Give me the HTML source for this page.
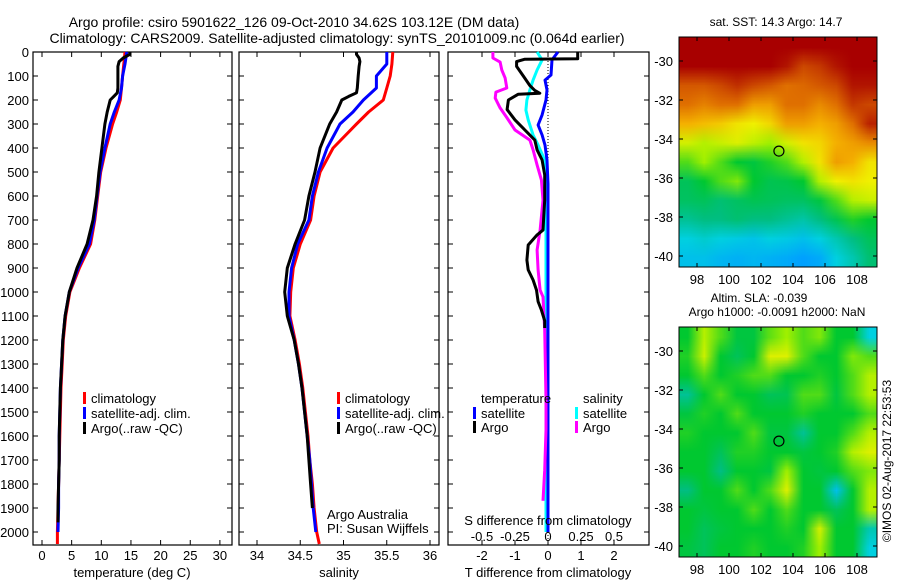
<!DOCTYPE html>
<html><head><meta charset="utf-8">
<style>
body{margin:0;background:#fff;}
#wrap{position:relative;width:900px;height:580px;}
#wrap canvas{position:absolute;image-rendering:auto;z-index:0;}
svg{position:absolute;left:0;top:0;display:block;font-family:"Liberation Sans",sans-serif;z-index:1;}
text{fill:#000;}
</style></head>
<body>
<div id="wrap">
<canvas id="m1" width="12" height="12" style="left:679px;top:37px;width:198px;height:230px;"></canvas>
<canvas id="m2" width="12" height="12" style="left:679px;top:327px;width:198px;height:230px;"></canvas>
<svg id="fig" width="900" height="580" viewBox="0 0 900 580">
<text x="294" y="27" font-size="14" text-anchor="middle">Argo profile: csiro 5901622_126 09-Oct-2010 34.62S 103.12E (DM data)</text>
<text x="337" y="43" font-size="14" text-anchor="middle">Climatology: CARS2009. Satellite-adjusted climatology: synTS_20101009.nc (0.064d earlier)</text>
<g id="g"></g>
</svg>
</div>
<script>
// ---------- profile data ----------
const climDepth=[0,50,100,150,200,250,300,400,500,600,700,800,900,1000,1100,1200,1300,1400,1500,1600,1700,1800,1900,2000,2050];
const tempClim=[14.0,13.8,13.6,13.4,13.2,12.6,11.9,10.8,9.9,9.4,8.9,8.2,6.3,4.7,4.0,3.6,3.4,3.2,3.1,3.0,2.9,2.8,2.7,2.6,2.6];
const tempSat=[14.3,14.0,13.6,13.4,13.0,12.2,11.5,10.6,9.8,9.3,8.8,8.0,6.1,4.6,3.9,3.5,3.3,3.1,3.0,2.9,2.9,2.8,2.8,2.7,2.7];
const salClim=[35.57,35.56,35.54,35.5,35.46,35.29,35.15,34.88,34.73,34.66,34.62,34.5,34.42,34.39,34.38,34.44,34.49,34.53,34.56,34.59,34.61,34.64,34.66,34.69,34.72];
const salSat=[35.5,35.5,35.38,35.38,35.23,35.11,34.96,34.81,34.71,34.64,34.6,34.47,34.4,34.37,34.37,34.43,34.48,34.52,34.55,34.58,34.61,34.63,34.65,34.68,34.7];
const argoDepth=[0,10,25,40,60,100,150,170,185,200,250,300,400,500,600,700,800,900,1000,1100,1200,1300,1400,1500,1600,1700,1800,1900,1960];
const tempArgo=[14.8,14.8,13.7,13.0,12.8,12.8,12.8,12.7,12.1,11.5,11.0,10.6,10.1,9.6,9.2,8.6,7.6,5.9,4.6,3.9,3.5,3.3,3.1,3.0,2.9,2.9,2.8,2.7,2.7];
const salArgo=[35.15,35.15,35.18,35.19,35.18,35.17,35.16,35.15,35.06,34.98,34.92,34.84,34.73,34.67,34.6,34.55,34.44,34.35,34.32,34.35,34.43,34.48,34.52,34.55,34.58,34.6,34.62,34.64,34.65];
// difference series (T units; S plotted as 4*dS)
const dTArgoDepth=[0,10,28,30,40,60,100,140,160,172,176,200,240,283,325,367,408,450,512,617,742,762,804,867,908,950,992,1040,1075,1120,1150];
const dTArgo=[0.9,0.9,0.9,-0.7,-0.95,-0.95,-0.75,-0.55,-0.4,-0.25,-0.9,-1.2,-1.24,-1.0,-0.7,-0.4,-0.33,-0.18,-0.1,-0.1,-0.15,-0.33,-0.6,-0.64,-0.6,-0.45,-0.35,-0.3,-0.2,-0.1,-0.1];
const dSArgoDepth=[0,25,42,75,108,150,167,192,233,275,325,367,408,471,533,617,742,825,908,992,1020,1158,1450,1575,1742,1870];
const dSArgo=[-1.67,-1.67,-1.45,-1.4,-1.3,-1.25,-1.58,-1.6,-1.45,-1.24,-1.0,-0.55,-0.45,-0.33,-0.2,-0.15,-0.24,-0.33,-0.3,-0.24,-0.15,-0.1,-0.06,-0.06,-0.1,-0.15];
const dSSatDepth=[0,33,75,117,158,200,242,283,346,388,450,533,1000,1500,2000];
const dSSat=[-0.33,-0.18,-0.33,-0.45,-0.55,-0.64,-0.67,-0.6,-0.45,-0.3,-0.1,-0.06,-0.06,-0.06,-0.06];
const dTSatDepth=[0,33,96,117,158,200,262,304,346,388,450,550,1000,1500,2000];
const dTSat=[0.3,0.12,0.09,-0.09,-0.03,-0.06,-0.18,-0.3,-0.18,-0.09,-0.03,0,0,0,0];
// tick labels
const depthTicks=[0,100,200,300,400,500,600,700,800,900,1000,1100,1200,1300,1400,1500,1600,1700,1800,1900,2000];
const tempTicks=[0,5,10,15,20,25,30];
const salTicks=[34,34.5,35,35.5,36];
const dTTicks=[-2,-1,0,1,2];
const dSTicks=[-0.5,-0.25,0,0.25,0.5];
// maps
const lonTicks=[98,100,102,104,106,108];
const latTicks=[-30,-32,-34,-36,-38,-40];
const sstGrid=[
[1,1,1,1,1,1,1,1,1,1,1,1],
[1,1,1,1,1,1,.97,.9,.92,.97,1,1],
[.88,.88,.9,.93,.9,.88,.85,.86,.88,.9,.97,.97],
[.85,.83,.85,.85,.8,.8,.85,.85,.82,.85,.92,.9],
[.78,.76,.74,.7,.68,.72,.8,.8,.78,.8,.85,.95],
[.65,.62,.64,.66,.63,.6,.65,.7,.72,.78,.8,.82],
[.55,.6,.55,.5,.48,.52,.55,.62,.7,.8,.78,.7],
[.45,.5,.55,.58,.5,.46,.47,.5,.62,.68,.7,.68],
[.44,.45,.42,.44,.46,.45,.44,.44,.48,.55,.62,.64],
[.38,.4,.4,.42,.4,.4,.38,.36,.4,.46,.52,.5],
[.3,.32,.3,.28,.26,.3,.28,.25,.3,.35,.4,.45],
[.25,.25,.22,.2,.22,.2,.18,.15,.18,.3,.35,.42]];
const slaGrid=[
[.5,.62,.55,.48,.48,.56,.6,.55,.58,.5,.5,.3],
[.52,.64,.5,.45,.5,.66,.66,.55,.5,.5,.58,.55],
[.5,.55,.5,.52,.55,.55,.5,.5,.52,.5,.55,.62],
[.38,.5,.55,.5,.5,.45,.46,.55,.55,.48,.55,.62],
[.48,.52,.5,.55,.5,.5,.5,.52,.5,.5,.5,.55],
[.52,.5,.5,.5,.55,.48,.48,.38,.5,.5,.55,.62],
[.5,.5,.45,.52,.52,.5,.5,.48,.5,.52,.62,.66],
[.5,.5,.4,.5,.5,.48,.6,.5,.48,.5,.55,.58],
[.4,.5,.5,.55,.5,.55,.66,.5,.5,.25,.5,.62],
[.5,.48,.5,.5,.55,.5,.55,.5,.5,.45,.5,.62],
[.5,.45,.48,.5,.5,.5,.52,.5,.65,.5,.5,.35],
[.48,.45,.5,.5,.52,.5,.5,.52,.6,.5,.5,.3]];
const argoLon=103.12, argoLat=-34.62;

const NS='http://www.w3.org/2000/svg';
const G=document.getElementById('g');
function mk(tag,attrs,parentEl,txt){const e=document.createElementNS(NS,tag);for(const k in attrs)e.setAttribute(k,attrs[k]);if(txt!==undefined)e.textContent=txt;(parentEl||G).appendChild(e);return e;}

const yD=d=>52+d*0.24;
const PT=52,PB=545;
const xT=t=>42+t*5.93;
const xS=s=>257+(s-34)*86.5;
const xDiff=v=>548+v*33;

function frame(x0,x1,name){
  const r=mk('rect',{x:x0,y:PT,width:x1-x0,height:PB-PT,fill:'none',stroke:'#000','stroke-width':1.2});
  
  
  depthTicks.forEach(d=>{
    const y=yD(d);
    mk('line',{x1:x0,x2:x0+5,y1:y,y2:y,stroke:'#000'});
    mk('line',{x1:x1-5,x2:x1,y1:y,y2:y,stroke:'#000'});
  });
}
function xticks(vals,fx,labels,name,ly){
  vals.forEach((v,i)=>{
    const x=fx(v);
    mk('line',{x1:x,x2:x,y1:PB,y2:PB-5,stroke:'#000'});
    mk('line',{x1:x,x2:x,y1:PT,y2:PT+5,stroke:'#000'});
    const t=mk('text',{x:x,y:ly,'font-size':13,'text-anchor':'middle'},G,labels[i]);
    
    
  });
}
function line(ds,vs,fx,color,name,w){
  const pts=ds.map((d,i)=>fx(vs[i]).toFixed(1)+','+yD(d).toFixed(1)).join(' ');
  const p=mk('polyline',{points:pts,fill:'none',stroke:color,'stroke-width':w||3,'stroke-linejoin':'round'});
  
  
}
function legend(x,y,color,label,name){
  mk('rect',{x:x,y:y-6,width:3,height:12,fill:color});
  const t=mk('text',{x:x+8,y:y+5,'font-size':13},G,label);
  
  
}

depthTicks.forEach(d=>{
  const t=mk('text',{x:29,y:yD(d)+5,'font-size':13,'text-anchor':'end'},G,String(d));
  
  
});

// Panel 1 temperature
frame(33,232,'temperature-panel');
xticks(tempTicks,xT,tempTicks.map(String),'temperature-tick-label',560);
line(climDepth,tempClim,xT,'#f00','temperature-climatology-line');
line(climDepth.slice(0,24),tempSat.slice(0,24),xT,'#00f','temperature-satellite-line');
line(argoDepth,tempArgo,xT,'#000','temperature-argo-line');
mk('text',{x:132,y:577,'font-size':13,'text-anchor':'middle',},G,'temperature (deg C)');
legend(83,398,'#f00','climatology','legend-climatology');
legend(83,413,'#00f','satellite-adj. clim.','legend-satellite-adj');
legend(83,428,'#000','Argo(..raw -QC)','legend-argo');

// Panel 2 salinity
frame(239,439,'salinity-panel');
xticks(salTicks,xS,['34','34.5','35','35.5','36'],'salinity-tick-label',560);
line(climDepth,salClim,xS,'#f00','salinity-climatology-line');
line(climDepth.slice(0,24),salSat.slice(0,24),xS,'#00f','salinity-satellite-line');
line(argoDepth.slice(0,28),salArgo.slice(0,28),xS,'#000','salinity-argo-line');
mk('text',{x:339,y:577,'font-size':13,'text-anchor':'middle',},G,'salinity');
legend(337,398,'#f00','climatology','legend-climatology-2');
legend(337,413,'#00f','satellite-adj. clim.','legend-satellite-adj-2');
legend(337,428,'#000','Argo(..raw -QC)','legend-argo-2');
mk('text',{x:327,y:519,'font-size':13,},G,'Argo Australia');
mk('text',{x:327,y:533,'font-size':13,},G,'PI: Susan Wijffels');

// Panel 3 differences
frame(448,649,'difference-panel');
mk('line',{x1:548,x2:548,y1:PT,y2:PB,stroke:'#000','stroke-dasharray':'1,2',});
xticks(dTTicks,xDiff,dTTicks.map(String),'t-diff-tick-label',560);
dSTicks.forEach((v,i)=>{
  const t=mk('text',{x:xDiff(v*4),y:541,'font-size':13,'text-anchor':'middle'},G,['-0.5','-0.25','0','0.25','0.5'][i]);
  
  
});
line(dSSatDepth,dSSat,xDiff,'#0ff','salinity-satellite-diff-line');
line(dTSatDepth,dTSat,xDiff,'#00f','temperature-satellite-diff-line');
line(dSArgoDepth,dSArgo,xDiff,'#f0f','salinity-argo-diff-line');
line(dTArgoDepth,dTArgo,xDiff,'#000','temperature-argo-diff-line');
mk('text',{x:548,y:525,'font-size':13,'text-anchor':'middle',},G,'S difference from climatology');
mk('text',{x:548,y:577,'font-size':13,'text-anchor':'middle',},G,'T difference from climatology');
mk('text',{x:481,y:403,'font-size':13,},G,'temperature');
mk('text',{x:583,y:403,'font-size':13,},G,'salinity');
legend(473,413,'#00f','satellite','legend-t-satellite');
legend(473,427,'#000','Argo','legend-t-argo');
legend(575,413,'#0ff','satellite','legend-s-satellite');
legend(575,427,'#f0f','Argo','legend-s-argo');

// ---------- maps ----------
const stops=[[0,[0,80,224]],[.15,[0,160,255]],[.3,[0,208,224]],[.4,[0,190,130]],[.5,[0,200,48]],[.6,[160,240,0]],[.68,[240,240,0]],[.78,[245,176,0]],[.85,[224,112,0]],[.93,[192,48,0]],[1,[168,0,0]]];
function cmap(v){for(let i=1;i<stops.length;i++){if(v<=stops[i][0]){const a=stops[i-1],b=stops[i],f=(v-a[0])/(b[0]-a[0]);return 'rgb('+a[1].map((c,k)=>Math.round(c+(b[1][k]-c)*f)).join(',')+')';}}return 'rgb(168,0,0)';}
const MX0=679,MW=198,MH=230;
const xLon=l=>697+(l-98)*16;
function map(y0,grid,canvasId,name,latZeroY){
  const yLat=l=>latZeroY+(-30-l)*19.5;
  const cv=document.getElementById(canvasId);
  const ctx=cv.getContext('2d');
  grid.forEach((row,r)=>row.forEach((v,c)=>{ctx.fillStyle=cmap(v);ctx.fillRect(c,r,1,1);}));
  const fr=mk('rect',{x:MX0,y:y0,width:MW,height:MH,fill:'none',stroke:'#000'});
  
  
  lonTicks.forEach(l=>{const x=xLon(l);mk('line',{x1:x,x2:x,y1:y0,y2:y0+4,stroke:'#000'});mk('line',{x1:x,x2:x,y1:y0+MH,y2:y0+MH-4,stroke:'#000'});
    const t=mk('text',{x:x,y:y0+MH+17,'font-size':13,'text-anchor':'middle'},G,String(l));
    
    });
  latTicks.forEach(l=>{const y=yLat(l);mk('line',{x1:MX0,x2:MX0+4,y1:y,y2:y,stroke:'#000'});mk('line',{x1:MX0+MW-4,x2:MX0+MW,y1:y,y2:y,stroke:'#000'});
    const t=mk('text',{x:673,y:y+5,'font-size':13,'text-anchor':'end'},G,String(l));
    
    });
  const c=mk('circle',{cx:xLon(argoLon),cy:yLat(argoLat),r:5,fill:'none',stroke:'#000','stroke-width':1.2});
  
  
}
map(37,sstGrid,'m1','sst-map',61);
map(327,slaGrid,'m2','sla-map',351);
mk('text',{x:776,y:26,'font-size':12,'text-anchor':'middle',},G,'sat. SST: 14.3 Argo: 14.7');
mk('text',{x:759,y:302,'font-size':12,'text-anchor':'middle',},G,'Altim. SLA: -0.039');
mk('text',{x:777,y:316,'font-size':12,'text-anchor':'middle',},G,'Argo h1000: -0.0091 h2000: NaN');
mk('text',{x:0,y:0,'font-size':12,'text-anchor':'middle',transform:'translate(891,461) rotate(-90)',},G,'©IMOS 02-Aug-2017 22:53:53');
</script>
</body></html>
